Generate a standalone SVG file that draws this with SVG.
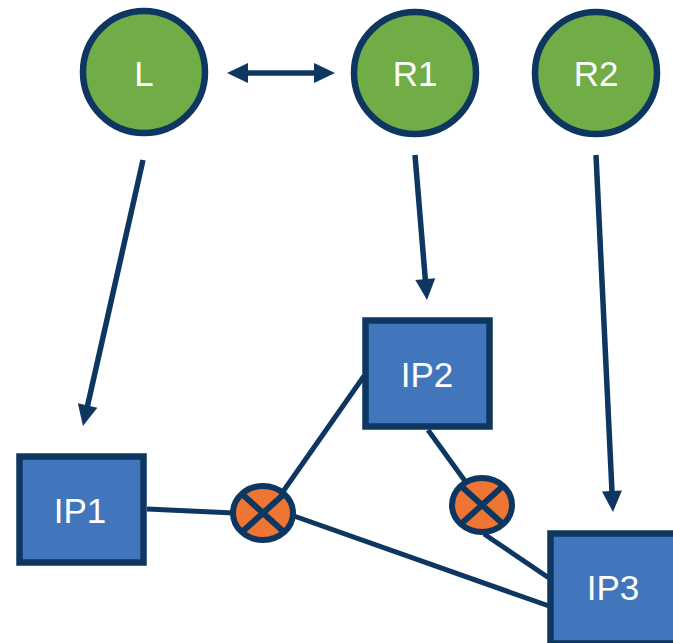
<svg xmlns="http://www.w3.org/2000/svg" width="673" height="643" viewBox="0 0 673 643">
  <defs>
    <style>
      .peer { fill: #70AD47; stroke: #0D3760; stroke-width: 6.5; }
      .ip { fill: #4276BC; stroke: #0D3760; stroke-width: 6.5; }
      .block { fill: #EE7534; stroke: #0D3760; stroke-width: 6; }
      .cross { stroke: #0D3760; stroke-width: 6; fill: none; }
      .label { font-family: "Liberation Sans", Arial, sans-serif; font-size: 35px; fill: #FFFFFF; text-anchor: middle; dominant-baseline: central; }
      .link { stroke: #0D3760; stroke-width: 5; fill: none; }
      .arrow { stroke: #0D3760; stroke-width: 5.5; fill: none; marker-end: url(#head); }
    </style>
    <!-- heads overhang the line end by 16px so the tip stays sharp -->
    <marker id="head" markerUnits="userSpaceOnUse" markerWidth="24" markerHeight="24" viewBox="0 0 24 24" refX="6" refY="12" orient="auto" overflow="visible">
      <path d="M1,2 L22,12 L1,22 Z" fill="#0D3760"/>
    </marker>
    <marker id="tail" markerUnits="userSpaceOnUse" markerWidth="24" markerHeight="24" viewBox="0 0 24 24" refX="18" refY="12" orient="auto" overflow="visible">
      <path d="M23,2 L2,12 L23,22 Z" fill="#0D3760"/>
    </marker>
  </defs>

  <g id="connectors">
    <!-- undirected links between prefixes -->
    <line class="link" x1="147" y1="509" x2="234" y2="513"/>
    <line class="link" x1="364" y1="376" x2="282" y2="493"/>
    <line class="link" x1="294" y1="516" x2="549" y2="606"/>
    <line class="link" x1="428" y1="430" x2="465" y2="481"/>
    <line class="link" x1="484" y1="534" x2="549" y2="578"/>
    <!-- announcements -->
    <line class="arrow" x1="143" y1="160" x2="86.5" y2="410.4"/>
    <line class="arrow" x1="415" y1="155" x2="425.7" y2="284.1"/>
    <line class="arrow" x1="596" y1="155" x2="612.2" y2="496"/>
    <line class="arrow" x1="243" y1="73" x2="319" y2="73" marker-start="url(#tail)"/>
  </g>

  <g id="L">
    <circle class="peer" cx="144" cy="72" r="61"/>
    <text class="label" x="144" y="73">L</text>
  </g>
  <g id="R1">
    <circle class="peer" cx="415" cy="73" r="61"/>
    <text class="label" x="415" y="73">R1</text>
  </g>
  <g id="R2">
    <circle class="peer" cx="596" cy="73" r="61"/>
    <text class="label" x="596" y="73">R2</text>
  </g>

  <g id="IP1">
    <rect class="ip" x="19.5" y="456.5" width="124" height="106"/>
    <text class="label" x="80" y="510">IP1</text>
  </g>
  <g id="IP2">
    <rect class="ip" x="365.5" y="320.5" width="124" height="106"/>
    <text class="label" x="427" y="374">IP2</text>
  </g>
  <g id="IP3">
    <rect class="ip" x="550.5" y="533.5" width="130" height="110"/>
    <text class="label" x="613" y="587">IP3</text>
  </g>

  <g id="block1">
    <ellipse class="block" cx="263" cy="513" rx="30" ry="27"/>
    <path class="cross" d="M242,494 L284,532 M284,494 L242,532"/>
  </g>
  <g id="block2">
    <ellipse class="block" cx="482" cy="505" rx="30" ry="27"/>
    <path class="cross" d="M461,486 L503,524 M503,486 L461,524"/>
  </g>
</svg>
